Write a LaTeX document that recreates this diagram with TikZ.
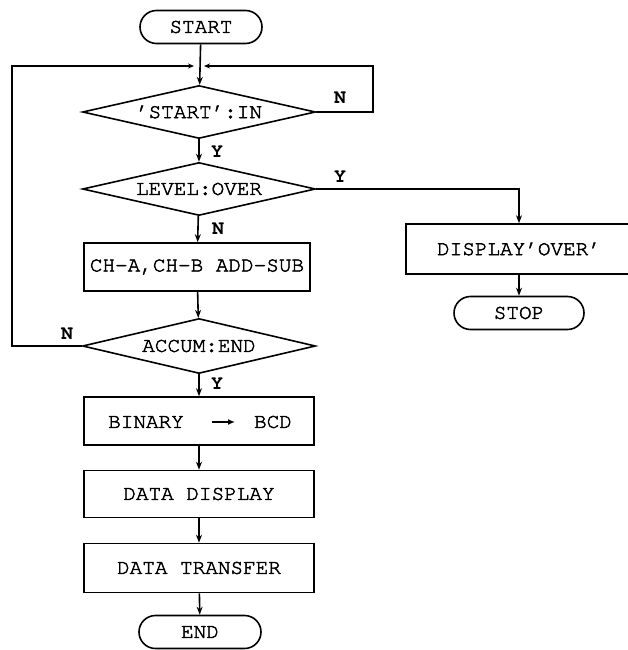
\documentclass[tikz,border=0pt]{standalone}
\usepackage{fontspec}
\usetikzlibrary{shapes.geometric,arrows.meta}
\newfontfamily\typer{texgyrecursor-regular.otf}[RawFeature={embolden=2.2}]
\newfontfamily\typerbold{texgyrecursor-bold.otf}
\begin{document}
\begin{tikzpicture}[x=1pt,y=-1pt,
  line width=1.6pt,
  txt/.style={font=\typer\fontsize{21}{24}\selectfont},
  terminal/.style={txt,draw,rounded corners=16.5pt,minimum width=122pt,minimum height=33pt,inner sep=0pt},
  process/.style={txt,draw,minimum width=230pt,minimum height=48pt,inner sep=0pt},
  decision/.style={txt,draw,diamond,aspect=4.5,minimum width=233pt,minimum height=53pt,inner sep=0pt},
  flow/.style={-{Stealth[length=8pt,width=6pt]}},
  yn/.style={font=\typerbold\fontsize{20}{22}\selectfont,inner sep=0pt}
]
\useasboundingbox (0,0) rectangle (628,650);

% main column
\node[terminal] (start) at (201,27) {START};
\node[decision] (d1) at (199,112) {’START’:IN};
\node[decision] (d2) at (199,189) {LEVEL:OVER};
\node[process,minimum width=226pt] (addsub) at (197,267) {CH-A,CH-B ADD-SUB};
\node[decision,minimum height=55pt] (d3) at (199,346) {ACCUM:END};
\node[process] (bcd) at (199,421) {};
\node[process,minimum height=47pt] (disp) at (199,494) {DATA DISPLAY};
\node[process,minimum height=49pt] (xfer) at (199,568) {DATA TRANSFER};
\node[terminal] (end) at (200,632) {END};

% text inside the conversion box
\node[txt,inner sep=0pt] (binL) at (146,422) {BINARY};
\node[txt,inner sep=0pt] (binR) at (273,422) {BCD};
\coordinate (arrA) at (212,422);
\coordinate (arrB) at (235,422);
\draw[line width=1.6pt,-{Latex[length=7pt,width=6pt]}] (arrA) -- (arrB);

% over-level branch
\node[process,minimum width=226pt,minimum height=50pt] (over) at (519,249) {DISPLAY’OVER’};
\node[terminal,minimum width=130pt] (stop) at (519,313) {STOP};

% loop junction
\coordinate (j) at (199,66);
\coordinate (lc) at (12,66);
\coordinate (rc) at (373,66);

% connectors
\draw[flow] (start) -- (d1);
\draw[flow] (d1) -- (d2);
\draw[flow] (d2) -- (addsub);
\draw[flow] (addsub) -- (d3);
\draw[flow] (d3) -- (bcd);
\draw[flow] (bcd) -- (disp);
\draw[flow] (disp) -- (xfer);
\draw[flow] (xfer) -- (end);
\draw[flow] (d2.east) -| (over.north);
\draw[flow] (over) -- (stop);

% return paths
\draw[-{Stealth[length=6pt,width=5pt]},shorten >=5pt] (d3.west) -| (lc) -- (j);
\draw[-{Stealth[length=6pt,width=5pt]},shorten >=5pt] (d1.east) -| (rc) -- (j);

% branch labels
\node[yn] (y1) at (217,152) {Y};
\node[yn] (n1) at (340,98) {N};
\node[yn] (y2) at (340,177) {Y};
\node[yn] (n2) at (218,229) {N};
\node[yn] (n3) at (67,334) {N};
\node[yn] (y3) at (217,384) {Y};
\end{tikzpicture}
\end{document}
